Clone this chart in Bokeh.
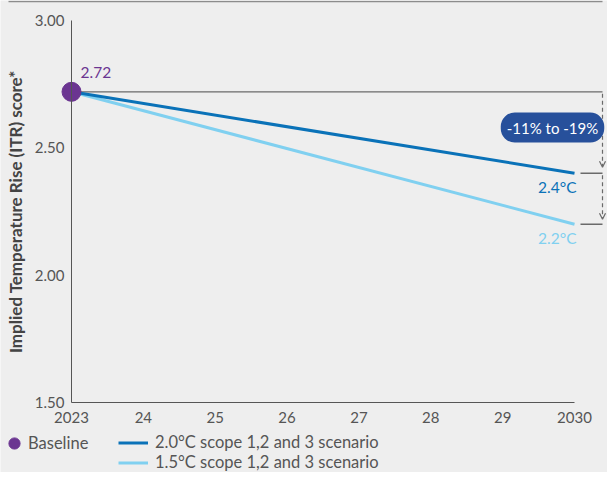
from bokeh.plotting import figure
from bokeh.models import (Label, Legend, LegendItem, FixedTicker, Arrow, OpenHead,
                          Range1d)
from bokeh.embed import file_html
from bokeh.resources import INLINE

# ---- data ----
years = [2023, 2030]
baseline_year = 2023
baseline_value = 2.72
scen_20 = [2.72, 2.4]
scen_15 = [2.72, 2.2]
x_ticks = [2023, 2024, 2025, 2026, 2027, 2028, 2029, 2030]
x_tick_labels = ["2023", "24", "25", "26", "27", "28", "29", "2030"]
y_ticks = [1.5, 2.0, 2.5, 3.0]
y_min, y_max = 1.5, 3.0
range_label = "-11% to -19%"
name_base = "Baseline"
name_20 = "2.0°C scope 1,2 and 3 scenario"
name_15 = "1.5°C scope 1,2 and 3 scenario"

BG = "#eeeeee"
PURPLE = "#6b3591"
DARK = "#0a72b8"
LIGHT = "#80d0f0"
GREY = "#555555"
LINEGREY = "#6a6a6a"
FONT = "Lato"

# ---- canvas layout (pixels) ----
W, H = 607, 472
ax_left_px, ax_right_px = 71, 574      # where 2023 / 2030 sit
ax_top_px, ax_bot_px = 20, 402         # where 3.00 / 1.50 sit
ppx = (ax_right_px - ax_left_px) / (years[-1] - years[0])
ppy = (ax_bot_px - ax_top_px) / (y_max - y_min)

x_start = years[0] - ax_left_px / ppx
x_end = years[0] + (W - ax_left_px) / ppx
y_end = y_max + ax_top_px / ppy
y_start = y_min - (H - ax_bot_px) / ppy


def px2x(px):
    return x_start + px / ppx


def px2y(py):
    return y_end - py / ppy


p = figure(width=W, height=H, output_backend="svg", toolbar_location=None,
           x_range=Range1d(x_start, x_end), y_range=Range1d(y_start, y_end),
           min_border_left=0, min_border_right=0, min_border_top=0,
           min_border_bottom=0)
p.background_fill_color = BG
p.border_fill_color = BG
p.outline_line_color = None
p.grid.grid_line_color = None

for ax in (p.xaxis[0], p.yaxis[0]):
    ax.axis_line_color = GREY
    ax.axis_line_width = 1
    ax.major_tick_line_color = None
    ax.minor_tick_line_color = None
    ax.major_tick_out = 0
    ax.major_tick_in = 0
    ax.major_label_text_color = GREY
    ax.major_label_text_font = FONT
    ax.major_label_text_font_size = "15px"

p.xaxis.fixed_location = y_min
p.xaxis.bounds = (years[0], years[-1])
p.xaxis.ticker = FixedTicker(ticks=x_ticks)
p.xaxis.major_label_overrides = {t: l for t, l in zip(x_ticks, x_tick_labels)}
p.xaxis.major_label_standoff = 9

p.yaxis.fixed_location = years[0]
p.yaxis.bounds = (y_min, y_max)
p.yaxis.ticker = FixedTicker(ticks=y_ticks)
p.yaxis.major_label_overrides = {t: f"{t:.2f}" for t in y_ticks}
p.yaxis.major_label_standoff = 7
p.yaxis.axis_label = "Implied Temperature Rise (ITR) score*"
p.yaxis.axis_label_text_font = FONT
p.yaxis.axis_label_text_font_style = "bold"
p.yaxis.axis_label_text_font_size = "17px"
p.yaxis.axis_label_text_color = "#444444"
p.yaxis.axis_label_standoff = 6

# thin rule at the very top
p.segment(x0=[px2x(8)], y0=[px2y(1)], x1=[px2x(602)], y1=[px2y(1)],
          line_color="#8c8c8c", line_width=1.5)

# bracket geometry
x_br = px2x(602)
x_tick0 = px2x(580)

# grey reference line at the baseline level
p.segment(x0=[baseline_year], y0=[baseline_value], x1=[x_br], y1=[baseline_value],
          line_color=LINEGREY, line_width=1.2)
# small end ticks next to the scenario end values
p.segment(x0=[x_tick0, x_tick0], y0=[scen_20[-1], scen_15[-1]],
          x1=[x_br, x_br], y1=[scen_20[-1], scen_15[-1]],
          line_color=LINEGREY, line_width=1.5)

# scenario lines + baseline point
r15 = p.line(years, scen_15, line_color=LIGHT, line_width=3)
r20 = p.line(years, scen_20, line_color=DARK, line_width=3)
rb = p.scatter([baseline_year], [baseline_value], size=19, color=PURPLE)

# dashed arrows
upp = 1 / ppy
p.add_layout(Arrow(end=OpenHead(size=6, line_color=LINEGREY, line_width=1.2),
                   x_start=x_br, y_start=baseline_value - 2 * upp,
                   x_end=x_br, y_end=scen_20[-1] + 6 * upp,
                   line_color=LINEGREY, line_width=1.2, line_dash="4 3"))
p.add_layout(Arrow(end=OpenHead(size=6, line_color=LINEGREY, line_width=1.2),
                   x_start=x_br, y_start=scen_20[-1] - 2 * upp,
                   x_end=x_br, y_end=scen_15[-1] + 5 * upp,
                   line_color=LINEGREY, line_width=1.2, line_dash="4 3"))

# value labels
p.add_layout(Label(x=baseline_year, y=baseline_value, x_offset=9, y_offset=19,
                   text=f"{baseline_value:.2f}", text_color=PURPLE, text_font=FONT,
                   text_font_size="15.5px", text_baseline="middle", text_align="left"))
p.add_layout(Label(x=years[-1], y=scen_20[-1], x_offset=2, y_offset=-13.5,
                   text=f"{scen_20[-1]:.1f}°C", text_color=DARK, text_font=FONT,
                   text_font_size="15.5px", text_baseline="middle", text_align="right"))
p.add_layout(Label(x=years[-1], y=scen_15[-1], x_offset=2, y_offset=-13.5,
                   text=f"{scen_15[-1]:.1f}°C", text_color=LIGHT, text_font=FONT,
                   text_font_size="15.5px", text_baseline="middle", text_align="right"))
mid_y = (baseline_value + scen_20[-1]) / 2
p.add_layout(Label(x=x_br, y=mid_y, x_offset=-50, y_offset=5,
                   text=range_label, text_color="white", text_font=FONT,
                   text_font_size="15px", text_baseline="middle", text_align="center",
                   background_fill_color="#27509b", padding=[6, 6],
                   border_radius=14))


# ---- legends (inside the full-canvas frame) ----
def style(leg):
    leg.background_fill_alpha = 0
    leg.border_line_alpha = 0
    leg.label_text_font = FONT
    leg.label_text_font_size = "16.5px"
    leg.label_text_color = GREY
    leg.padding = 0
    leg.margin = 0


leg1 = Legend(items=[LegendItem(label=name_base, renderers=[rb])], location=(0, 15))
style(leg1)
leg1.glyph_width = 28
leg1.glyph_height = 28
leg1.label_height = 28
leg1.label_standoff = 0

leg2 = Legend(items=[LegendItem(label=name_20, renderers=[r20]),
                     LegendItem(label=name_15, renderers=[r15])],
              location=(118, 0))
style(leg2)
leg2.glyph_width = 30
leg2.glyph_height = 17
leg2.label_height = 17
leg2.spacing = 0
leg2.label_standoff = 7

p.add_layout(leg1)
p.add_layout(leg2)

open("out.html", "w").write(file_html(p, INLINE))
